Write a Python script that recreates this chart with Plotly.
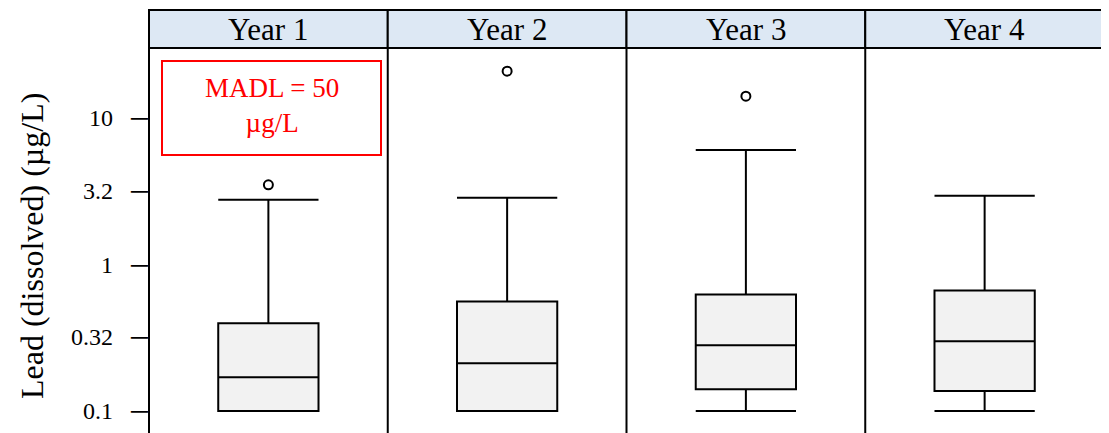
import plotly.graph_objects as go
from plotly.subplots import make_subplots

years = ['Year 1', 'Year 2', 'Year 3', 'Year 4']
lower = [0.1, 0.1, 0.1, 0.1]
q1 = [0.1, 0.1, 0.141, 0.137]
median = [0.170, 0.212, 0.281, 0.299]
q3 = [0.397, 0.56, 0.625, 0.666]
upper = [2.77, 2.86, 6.06, 2.95]
outliers = [[3.5], [20.9], [14.1], []]

tick_vals = [0.1, 0.32, 1, 3.2, 10]
tick_text = ['0.1', '0.32', '1', '3.2', '10']

serif = 'Liberation Serif, Times New Roman, serif'
y_range = [-1.150, 1.478]  # log10 units

# the page body has an 8px margin, so the figure is laid out 8px smaller
fig = make_subplots(rows=1, cols=4, horizontal_spacing=0)

for i, yr in enumerate(years):
    col = i + 1
    fig.add_trace(go.Box(
        x=[0], q1=[q1[i]], median=[median[i]], q3=[q3[i]],
        lowerfence=[lower[i]], upperfence=[upper[i]],
        width=0.42, whiskerwidth=1,
        fillcolor='#f2f2f2', line=dict(color='black', width=2),
        boxpoints=False, showlegend=False, name=yr
    ), row=1, col=col)
    if outliers[i]:
        fig.add_trace(go.Scatter(
            x=[0] * len(outliers[i]), y=outliers[i], mode='markers',
            marker=dict(symbol='circle-open', size=9, color='black', line=dict(width=2)),
            showlegend=False
        ), row=1, col=col)
    fig.update_xaxes(range=[-0.5, 0.5], showticklabels=False, ticks='', showgrid=False,
                     zeroline=False, showline=False, automargin=False, row=1, col=col)
    fig.update_yaxes(type='log', range=y_range, showgrid=False, zeroline=False,
                     automargin=False, row=1, col=col)

    # strip header
    dom = fig.layout['xaxis' if col == 1 else 'xaxis%d' % col].domain
    fig.add_shape(type='rect', xref='paper', yref='paper',
                  x0=dom[0], x1=dom[1], y0=1, y1=1 + 38 / 385,
                  fillcolor='#dde8f4', line=dict(color='black', width=2), layer='above')
    fig.add_annotation(x=(dom[0] + dom[1]) / 2, y=1 + 19 / 385, xref='paper', yref='paper',
                       text=yr, showarrow=False, xanchor='center', yanchor='middle',
                       font=dict(family=serif, size=31, color='black'))

# panel borders
for xb in [0, 0.25, 0.5, 0.75, 1]:
    fig.add_shape(type='line', xref='paper', yref='paper', x0=xb, x1=xb, y0=-0.05, y1=1,
                  line=dict(color='black', width=2), layer='above')

# tick marks: line shapes did not show, so the dash is put into the tick label text
dash = '\u2500'
fig.update_layout(
    template='none',
    yaxis=dict(ticks='', tickvals=tick_vals,
               ticktext=[t + '   ' + dash for t in tick_text],
               tickfont=dict(family=serif, size=24, color='black')),
    yaxis2=dict(ticks='', showticklabels=False),
    yaxis3=dict(ticks='', showticklabels=False),
    yaxis4=dict(ticks='', side='right', tickvals=tick_vals,
                ticktext=[dash] * len(tick_vals),
                tickfont=dict(family=serif, size=24, color='black')),
)

# MADL note box in first panel
fig.add_shape(type='rect', xref='paper', yref='paper',
              x0=(162 - 149) / 955, x1=(381 - 149) / 955,
              y0=(433 - 155) / 385, y1=(433 - 61) / 385,
              line=dict(color='red', width=2))
fig.add_annotation(xref='paper', yref='paper', x=(272 - 149) / 955,
                   y=(433 - 105) / 385, text='MADL = 50<br>µg/L', showarrow=False,
                   xanchor='center', yanchor='middle',
                   font=dict(family=serif, size=27, color='red'))

fig.add_annotation(xref='paper', yref='paper', x=(32 - 149) / 955, y=(433 - 246) / 385,
                   text='Lead (dissolved) (µg/L)', textangle=-90, showarrow=False,
                   xanchor='center', yanchor='middle',
                   font=dict(family=serif, size=32, color='black'))

fig.update_layout(width=1101, height=425, margin=dict(l=141, r=5, t=40, b=0),
                  paper_bgcolor='white', plot_bgcolor='white')

fig.write_html('out.html')
